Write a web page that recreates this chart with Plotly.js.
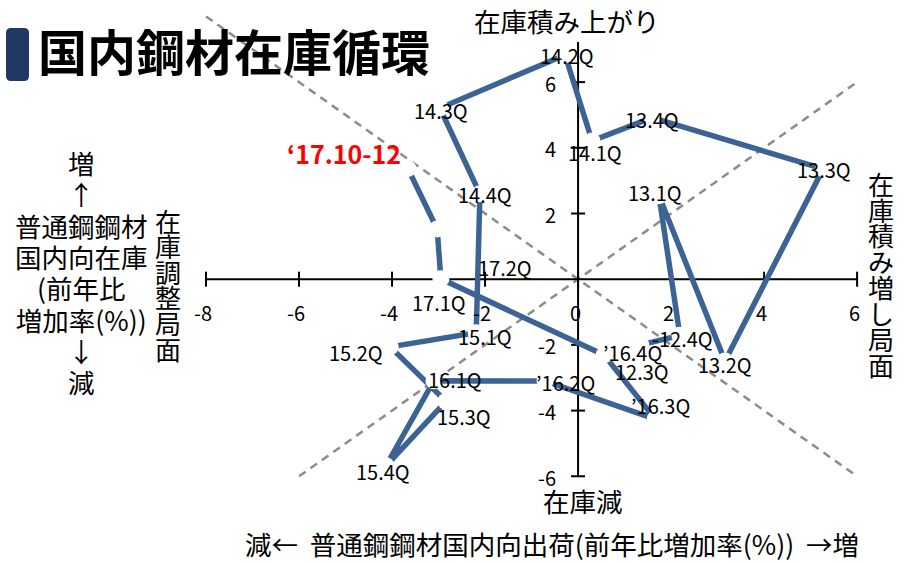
<!DOCTYPE html>
<html>
<head>
<meta charset="utf-8">
<script src="https://cdn.plot.ly/plotly-3.0.1.min.js"></script>
<style>html,body{margin:0;padding:0;background:#fff;}#chart{width:905px;height:562px;}</style>
</head>
<body>
<div id="chart"></div>
<script>
// ---- data ----
const periods = ['12.3Q','12.4Q','13.1Q','13.2Q','13.3Q','13.4Q','14.1Q','14.2Q','14.3Q','14.4Q','15.1Q','15.2Q','15.3Q','15.4Q','16.1Q','16.2Q','16.3Q','16.4Q','17.1Q','17.2Q','17.10-12'];
const pointLabels = ['12.3Q','-12.4Q','13.1Q','13.2Q','13.3Q','13.4Q','14.1Q','14.2Q','14.3Q','14.4Q','15.1Q','15.2Q','15.3Q','15.4Q','16.1Q','’16.2Q','’16.3Q','’16.4Q','17.1Q','17.2Q','‘17.10-12'];
// x: 普通鋼鋼材国内向出荷 前年比増加率(%)
const shipmentGrowth = [1.35, 2.19, 1.74, 3.16, 5.27, 1.59, 0.30, -0.28, -2.97, -2.11, -2.19, -4.04, -2.84, -4.13, -3.10, -0.71, 1.66, 0.56, -2.95, -3.03, -3.66];
// y: 普通鋼鋼材国内向在庫 前年比増加率(%)
const inventoryGrowth = [-2.00, -1.71, 2.54, -2.49, 3.36, 4.92, 4.21, 6.83, 5.21, 2.60, -1.63, -2.06, -3.72, -5.68, -3.09, -3.10, -4.26, -2.31, 0.01, 1.53, 3.37];
const xTicks = [-8, -6, -4, -2, 0, 2, 4, 6];
const yTicks = [-6, -4, -2, 2, 4, 6];
const xTickLabels = ['-8', '-6', '-4', '-2', '0', '2', '4', '6'];
const yTickLabels = ['-6', '-4', '-2', '2', '4', '6'];

// ---- layout helpers (positions / styles) ----
const W = 905, H = 562;
const XR = [-12.43, 7.03], YR = [-8.61, 8.50];
const px2x = p => XR[0] + p / W * (XR[1] - XR[0]);
const py2y = p => YR[1] - p / H * (YR[1] - YR[0]);
// label offsets in pixels (dx right, dy down) relative to each point
const labelOffsets = [[1,27],[3,3],[-4,-3],[0,4],[1,1],[0,2],[3,12],[2,1],[1,2],[5,1],[9,4],[-34,6],[18,15],[-3,6],[21,-1],[20,1],[5,-14],[28,-3],[-2,24],[68,39],[-64,-16]];

const BLUE = '#3b6495';
const JP = 'Noto Sans CJK JP';
const shapes = [];
const annotations = [];
const tighten = [];

// diagonal guide lines
shapes.push({type:'line', xref:'x', yref:'y', x0:-8, y0:8, x1:6, y1:-6, layer:'below', line:{color:'#8c8c8c', width:2.5, dash:'8px,6px'}});
shapes.push({type:'line', xref:'x', yref:'y', x0:-6, y0:-6, x1:6, y1:6, layer:'below', line:{color:'#8c8c8c', width:2.5, dash:'8px,6px'}});
// axes crossing at origin
shapes.push({type:'line', xref:'x', yref:'y', x0:xTicks[0], y0:0, x1:xTicks[xTicks.length-1], y1:0, layer:'below', line:{color:'#000', width:2}});
shapes.push({type:'line', xref:'x', yref:'y', x0:0, y0:yTicks[0], x1:0, y1:py2y(42), layer:'below', line:{color:'#000', width:2}});
const tx = 7 * (XR[1]-XR[0]) / W, ty = 7.5 * (YR[1]-YR[0]) / H;
xTicks.forEach((v, i) => {
  shapes.push({type:'line', xref:'x', yref:'y', x0:v, y0:-ty, x1:v, y1:ty, layer:'below', line:{color:'#000', width:2}});
  annotations.push({x:v, y:0, xref:'x', yref:'y', text:xTickLabels[i], showarrow:false, xshift:-3, yshift:-33, font:{family:JP, size:20, color:'#000'}});
});
yTicks.forEach((v, i) => {
  shapes.push({type:'line', xref:'x', yref:'y', x0:-tx, y0:v, x1:tx, y1:v, layer:'below', line:{color:'#000', width:2}});
  annotations.push({x:0, y:v, xref:'x', yref:'y', text:yTickLabels[i], showarrow:false, xanchor:'right', xshift:-20, yshift:-1, font:{family:JP, size:20, color:'#000'}});
});

// point labels
pointLabels.forEach((t, i) => {
  const last = i === pointLabels.length - 1;
  annotations.push({x:shipmentGrowth[i], y:inventoryGrowth[i], xref:'x', yref:'y', text: last ? '<b>'+t+'</b>' : t, showarrow:false,
    xshift:labelOffsets[i][0], yshift:-labelOffsets[i][1],
    font:{family:JP, size: last ? 25 : 20, color: last ? '#ff0000' : '#000'}});
});

// title bar
const bx0 = px2x(6), bx1 = px2x(29), by0 = py2y(28), by1 = py2y(81);
const rx = 5*(XR[1]-XR[0])/W, ry = 5*(YR[1]-YR[0])/H;
shapes.push({type:'path', xref:'x', yref:'y', fillcolor:'#1f3864', line:{width:0},
  path:`M ${bx0+rx} ${by0} L ${bx1-rx} ${by0} Q ${bx1} ${by0} ${bx1} ${by0-ry} L ${bx1} ${by1+ry} Q ${bx1} ${by1} ${bx1-rx} ${by1} L ${bx0+rx} ${by1} Q ${bx0} ${by1} ${bx0} ${by1+ry} L ${bx0} ${by0-ry} Q ${bx0} ${by0} ${bx0+rx} ${by0} Z`});

// text helpers
function txt(text, px, py, size) {
  annotations.push({x:px2x(px), y:py2y(py), xref:'x', yref:'y', text:text, showarrow:false, font:{family:JP, size:size, color:'#000'}});
}
// multi-line block whose line pitch is set afterwards (tight, like the original)
function block(lines, px, pyCenter, size, pitch) {
  tighten.push({index: annotations.length, pitch: pitch});
  annotations.push({x:px2x(px), y:py2y(pyCenter), xref:'x', yref:'y', text:lines.join('<br>'), align:'center', showarrow:false, font:{family:JP, size:size, color:'#000'}});
}
// top / bottom / side quadrant labels
txt('在庫積み上がり', 567, 20, 26.5);
txt('在庫減', 583, 500, 26.5);
txt('減←  普通鋼鋼材国内向出荷(前年比増加率(%))  →増', 552, 543, 26.5);
block(['増','↑','普通鋼鋼材','国内向在庫','(前年比','増加率(%))','↓','減'], 81, 271.5, 26.5, 31.3);
block('在庫調整局面'.split(''), 168, 284, 26, 25.6);
block('在庫積み増し局面'.split(''), 881, 273.6, 26, 25.9);

const trace = {
  x: shipmentGrowth, y: inventoryGrowth, text: periods, type:'scatter', mode:'lines+markers',
  line:{color:BLUE, width:5.5}, marker:{color:'#ffffff', size:17, line:{width:0}},
  cliponaxis:false, hoverinfo:'text', showlegend:false
};

const layout = {
  width:W, height:H, margin:{l:0, r:0, t:0, b:0}, paper_bgcolor:'#fff', plot_bgcolor:'#fff',
  title:{text:'<b>国内鋼材在庫循環</b>', font:{family:JP, size:49, color:'#000'}, x:38/W, xanchor:'left', xref:'paper', y:1-54/H, yanchor:'middle', yref:'paper'},
  xaxis:{range:XR, visible:false, fixedrange:true},
  yaxis:{range:YR, visible:false, fixedrange:true},
  shapes:shapes, annotations:annotations, showlegend:false
};
const gd = document.getElementById('chart');
Plotly.newPlot(gd, [trace], layout, {displayModeBar:false, staticPlot:true}).then(() => {
  tighten.forEach(tg => {
    const g = gd.querySelector('g.annotation[data-index="' + tg.index + '"]');
    if (!g) return;
    const t = g.querySelector('text.annotation-text');
    if (!t) return;
    const before = t.getBoundingClientRect();
    t.querySelectorAll('tspan.line').forEach(ln => {
      const n = Math.round((parseFloat(ln.getAttribute('dy')) || 0) / 1.3);
      ln.setAttribute('dy', (n * tg.pitch) + 'px');
    });
    const after = t.getBoundingClientRect();
    const shift = (before.top + before.bottom) / 2 - (after.top + after.bottom) / 2;
    const tr = t.getAttribute('transform') || '';
    t.setAttribute('transform', tr + ' translate(0,' + shift + ')');
  });
});
</script>
</body>
</html>
